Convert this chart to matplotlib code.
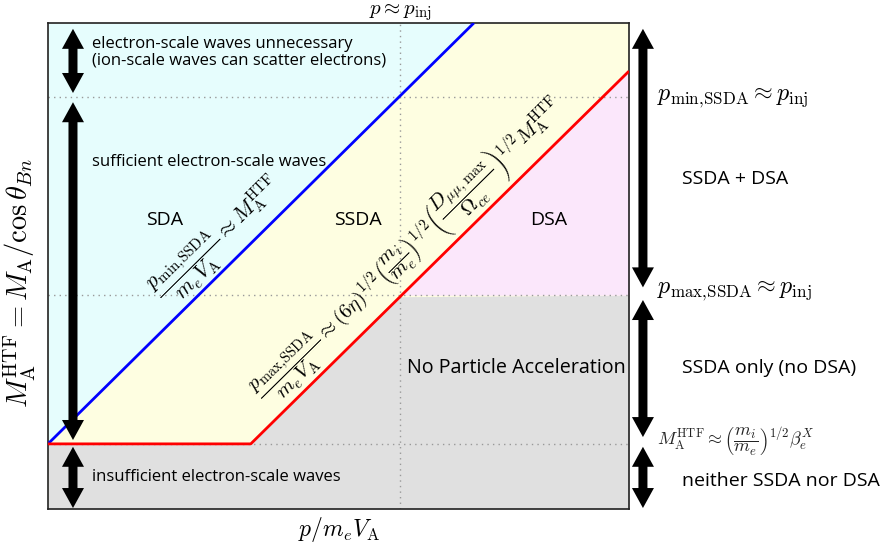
import matplotlib
matplotlib.use("Agg")
import matplotlib.pyplot as plt
import numpy as np
from matplotlib.patches import Polygon

plt.rcParams['mathtext.fontset'] = 'cm'
plt.rcParams['font.family'] = ['Open Sans', 'DejaVu Sans']

# ---- data (axes-fraction style units: log p horizontally, log M vertically) ----
x_inj = 0.606                      # p ~ p_inj
y_levels = [0.134, 0.44, 0.848]    # M thresholds (low, mid, high)
blue_x = [0.0, 0.733]              # p_min,SSDA line
blue_y = [0.134, 1.0]
red_x = [0.0, 0.349, 1.0]          # p_max,SSDA line
red_y = [0.134, 0.134, 0.901]

c_cyan = '#e6fdfd'
c_yellow = '#fefee1'
c_pink = '#fbe7fb'
c_gray = '#e0e0e0'

fig = plt.figure(figsize=(8.9, 5.46), dpi=100)
ax = fig.add_axes([48/890, 37/546, 581/890, 486/546])
ax.set_xlim(0, 1)
ax.set_ylim(0, 1)
ax.set_facecolor(c_yellow)

# regions
ax.fill_between(blue_x, blue_y, 1, color=c_cyan, lw=0, zorder=1)
xg = np.array(sorted(set(red_x + [x_inj])))
red_g = np.interp(xg, red_x, red_y)
ax.fill_between(xg, 0, np.minimum(red_g, y_levels[1]), color=c_gray, lw=0, zorder=1)
xp = np.array([x_inj, 1.0])
ax.fill_between(xp, y_levels[1], np.interp(xp, red_x, red_y), color=c_pink, lw=0, zorder=1)

# dotted guides
ax.axvline(x_inj, color='#999999', ls=(0, (1, 3)), lw=1, zorder=2)
for yl in y_levels:
    ax.axhline(yl, color='#999999', ls=(0, (1, 3)), lw=1, zorder=2)

# boundary lines
ax.plot(blue_x, blue_y, color='#0000ff', lw=2, zorder=3, solid_capstyle='butt')
ax.plot(red_x, red_y, color='#ff0000', lw=2, zorder=3, solid_capstyle='butt')

ax.set_xticks([])
ax.set_yticks([])
for s in ax.spines.values():
    s.set_linewidth(1.2)
    s.set_color('#222222')

ax.set_xlabel(r'$p/m_eV_{\rm A}$', fontsize=17, labelpad=4)
ax.set_ylabel(r'$M_{\rm A}^{\rm HTF} = M_{\rm A}/\cos\theta_{Bn}$', fontsize=20.5)
ax.yaxis.set_label_coords(-0.018, 0.465)
ax.text(x_inj, 1.0, r'$p \approx p_{\rm inj}$', ha='center', va='bottom', fontsize=15,
        transform=ax.transAxes)

# double arrows
W = 581.0
H = 486.0
def darrow(cx, y0, y1):
    hw, HW, hl = 4.5 / W, 11 / W, 20 / H
    pts = [(cx, y1), (cx + HW, y1 - hl), (cx + hw, y1 - hl), (cx + hw, y0 + hl),
           (cx + HW, y0 + hl), (cx, y0), (cx - HW, y0 + hl), (cx - hw, y0 + hl),
           (cx - hw, y1 - hl), (cx - HW, y1 - hl)]
    ax.add_patch(Polygon(pts, closed=True, color='black', lw=0, clip_on=False,
                         transform=ax.transAxes, zorder=5))

left_cx = 0.043
right_cx = 1.024
for y0, y1 in [(0.856, 0.988), (0.142, 0.837), (0.002, 0.128)]:
    darrow(left_cx, y0, y1)
for y0, y1 in [(0.456, 0.988), (0.148, 0.43), (0.002, 0.128)]:
    darrow(right_cx, y0, y1)

# text in regions
fs = 12
tx = 44 / W
ax.text(tx + 0.0, 0.940, 'electron-scale waves unnecessary\n(ion-scale waves can scatter electrons)',
        fontsize=fs, va='center', ha='left', linespacing=1.0, zorder=6)
ax.text(tx, 0.714, 'sufficient electron-scale waves', fontsize=fs, va='center', ha='left', zorder=6)
ax.text(tx, 0.066, 'insufficient electron-scale waves', fontsize=fs, va='center', ha='left', zorder=6)

ax.text(0.200, 0.595, 'SDA', fontsize=14, ha='center', va='center', zorder=6)
ax.text(0.534, 0.595, 'SSDA', fontsize=14, ha='center', va='center', zorder=6)
ax.text(0.861, 0.595, 'DSA', fontsize=14, ha='center', va='center', zorder=6)
ax.text(0.806, 0.290, 'No Particle Acceleration', fontsize=14.2, ha='center', va='center', zorder=6)

# formulas along lines
ax.text(0.324, 0.520,
        r'$\dfrac{p_{\rm min,\!SSDA}}{m_eV_{\rm A}} \approx M_{\rm A}^{\rm HTF}$',
        fontsize=15.5, rotation=44.6, rotation_mode='anchor', ha='center', va='bottom', zorder=6)
ax.text(0.652, 0.497,
        r'$\dfrac{p_{\rm max,\!SSDA}}{m_eV_{\rm A}} \approx (6\eta)^{1/2}\left(\dfrac{m_i}{m_e}\right)^{1/2}'
        r'\left(\dfrac{D_{\mu\mu,\max}}{\Omega_{ce}}\right)^{1/2} M_{\rm A}^{\rm HTF}$',
        fontsize=15, rotation=44.6, rotation_mode='anchor', ha='center', va='bottom', zorder=6)

# right-hand annotations
rx1 = (657 - 48) / W
rx2 = (682 - 48) / W
ax.text(rx1, (509 - 98) / H, r'$p_{\rm min,\!SSDA} \approx p_{\rm inj}$', fontsize=17.4,
        ha='left', va='center', transform=ax.transAxes)
ax.text(rx2, (509 - 179) / H, 'SSDA + DSA', fontsize=14, ha='left', va='center', transform=ax.transAxes)
ax.text(rx1, (509 - 291) / H, r'$p_{\rm max,\!SSDA} \approx p_{\rm inj}$', fontsize=17.4,
        ha='left', va='center', transform=ax.transAxes)
ax.text(rx2, (509 - 368) / H, 'SSDA only (no DSA)', fontsize=14, ha='left', va='center', transform=ax.transAxes)
ax.text(rx1, (509 - 441) / H,
        r'$M_{\rm A}^{\rm HTF} \approx \left(\dfrac{m_i}{m_e}\right)^{1/2}\beta_e^X$',
        fontsize=13, ha='left', va='center', transform=ax.transAxes, color='#222222')
ax.text(rx2, (509 - 481) / H, 'neither SSDA nor DSA', fontsize=14, ha='left', va='center', transform=ax.transAxes)

fig.savefig('out.png', dpi=100)
